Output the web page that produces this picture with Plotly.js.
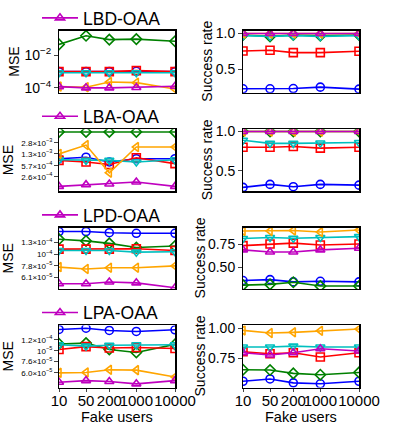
<!DOCTYPE html>
<html>
<head>
<meta charset="utf-8">
<script src="https://cdn.plot.ly/plotly-3.0.1.min.js"></script>
<style>
  body { margin: 0; }
  #plot { width: 399px; height: 426px; }
</style>
</head>
<body>
<div id="plot"></div>
<script>
const fakeUsers = [10, 50, 200, 1000, 10000];
const xTickText = ["10", "50", "200", "1000", "10000"];
const methods = ["LBD-OAA", "LBA-OAA", "LPD-OAA", "LPA-OAA"];

// series order in every panel: blue o, green D, red s, cyan v, orange <, magenta ^
const lbdMse = [
  [1.0e-3, 1.0e-3, 1.0e-3, 1.05e-3, 1.0e-3],
  [4.7e-2, 1.6e-1, 9.3e-2, 1.0e-1, 7.4e-2],
  [1.0e-3, 1.0e-3, 1.0e-3, 1.15e-3, 1.0e-3],
  [8.5e-4, 8.5e-4, 8.5e-4, 8.5e-4, 8.5e-4],
  [1.2e-4, 1.1e-4, 2.3e-4, 2.1e-4, 8.5e-5],
  [1.2e-4, 1.0e-4, 1.0e-4, 1.05e-4, 1.25e-4]
];
const lbdRate = [
  [0.229, 0.229, 0.233, 0.252, 0.225],
  [0.98, 0.96, 0.98, 0.97, 0.98],
  [0.756, 0.766, 0.734, 0.734, 0.752],
  [0.97, 0.96, 0.97, 0.96, 0.97],
  [1, 1, 1, 1, 1],
  [1, 1, 1, 1, 1]
];
const lbaMse = [
  [9.3e-4, 1.03e-3, 7.4e-4, 9.3e-4, 9.3e-4],
  [6.0e-3, 6.0e-3, 6.0e-3, 6.0e-3, 6.0e-3],
  [8.3e-4, 7.4e-4, 6.2e-4, 9.9e-4, 6.6e-4],
  [8.6e-4, 8.3e-4, 8.3e-4, 7.4e-4, 8.6e-4],
  [1.3e-3, 2.4e-3, 3.5e-4, 2.1e-3, 2.1e-3],
  [1.35e-4, 1.52e-4, 1.6e-4, 1.83e-4, 1.35e-4]
];
const lbaRate = [
  [0.291, 0.329, 0.3, 0.329, 0.32],
  [1, 1, 1, 1, 1],
  [0.8, 0.8, 0.81, 0.79, 0.8],
  [0.89, 0.85, 0.85, 0.855, 0.86],
  [1, 1, 1, 1, 1],
  [1, 1, 1, 1, 1]
];
const lpdMse = [
  [1.64e-4, 1.64e-4, 1.6e-4, 1.58e-4, 1.58e-4],
  [1.39e-4, 1.34e-4, 1.27e-4, 1.16e-4, 1.2e-4],
  [1.12e-4, 1.12e-4, 1.12e-4, 1.13e-4, 1.09e-4],
  [1.09e-4, 1.09e-4, 1.09e-4, 1.05e-4, 1.06e-4],
  [7.6e-5, 7.3e-5, 7.5e-5, 7.5e-5, 7.8e-5],
  [5.3e-5, 5.3e-5, 5.5e-5, 5.4e-5, 4.85e-5]
];
const lpdRate = [
  [0.358, 0.368, 0.344, 0.35, 0.344],
  [0.309, 0.317, 0.34, 0.299, 0.299],
  [0.733, 0.75, 0.76, 0.74, 0.75],
  [0.809, 0.82, 0.812, 0.82, 0.83],
  [0.89, 0.89, 0.896, 0.879, 0.9],
  [0.687, 0.664, 0.664, 0.687, 0.705]
];
const lpaMse = [
  [1.49e-4, 1.53e-4, 1.46e-4, 1.43e-4, 1.48e-4],
  [1.1e-4, 1.12e-4, 9.8e-5, 9.2e-5, 1.09e-4],
  [9.8e-5, 1.04e-4, 1.01e-4, 1.02e-4, 1.0e-4],
  [1.08e-4, 1.05e-4, 1.07e-4, 1.08e-4, 1.08e-4],
  [6.0e-5, 6.05e-5, 6.4e-5, 6.35e-5, 5.5e-5],
  [4.92e-5, 5.1e-5, 5.0e-5, 4.76e-5, 5.1e-5]
];
const lpaRate = [
  [0.56, 0.579, 0.547, 0.539, 0.56],
  [0.655, 0.653, 0.625, 0.614, 0.633],
  [0.804, 0.788, 0.796, 0.761, 0.796],
  [0.843, 0.843, 0.851, 0.843, 0.843],
  [0.981, 0.959, 0.965, 0.978, 0.992],
  [0.796, 0.778, 0.796, 0.829, 0.81]
];

// y tick values / labels per row
const mseTickVals = [
  [1e-4, 1e-2],
  [2.6e-4, 5.7e-4, 1.3e-3, 2.8e-3],
  [6.1e-5, 7.8e-5, 1e-4, 1.3e-4],
  [6.0e-5, 7.6e-5, 9.5e-5, 1.2e-4]
];
const mseTickText = [
  ["10<sup>\u22124</sup>", "10<sup>\u22122</sup>"],
  ["2.6\u00d710<sup>\u22124</sup>", "5.7\u00d710<sup>\u22124</sup>", "1.3\u00d710<sup>\u22123</sup>", "2.8\u00d710<sup>\u22123</sup>"],
  ["6.1\u00d710<sup>\u22125</sup>", "7.8\u00d710<sup>\u22125</sup>", "10<sup>\u22124</sup>", "1.3\u00d710<sup>\u22124</sup>"],
  ["6.0\u00d710<sup>\u22125</sup>", "7.6\u00d710<sup>\u22125</sup>", "10<sup>\u22125</sup>", "1.2\u00d710<sup>\u22124</sup>"]
];
const rateTickVals = [[0.5, 1.0], [0.5, 1.0], [0.5, 0.75], [0.75, 1.0]];
const rateTickText = [["0.5", "1.0"], ["0.5", "1.0"], ["0.50", "0.75"], ["0.75", "1.00"]];

const mseData = [lbdMse, lbaMse, lpdMse, lpaMse];
const rateData = [lbdRate, lbaRate, lpdRate, lpaRate];

const colors = ["#0000ff", "#008000", "#ff0000", "#00bfbf", "#ffa500", "#bf00bf"];
const symbols = ["circle-open", "diamond-open", "square-open", "triangle-down-open", "triangle-left-open", "triangle-up-open"];

// axis ranges (log10 for MSE)
const mseRanges = [[-4.3, -0.48], [-4.02, -2.14], [-4.325, -3.75], [-4.356, -3.79]];
const rateRanges = [[0.174, 1.04], [0.241, 1.029], [0.268, 0.924], [0.508, 1.022]];

const W = 399, H = 426;
const colPx = [[59, 175], [243, 359]];
const rowPx = [[25, 88], [125, 188], [225, 287], [324, 387]];
const font = "Liberation Sans, Arial, sans-serif";

const data = [];
const layout = {
  width: W, height: H,
  margin: { l: 0, r: 0, t: 0, b: 0 },
  paper_bgcolor: "white",
  plot_bgcolor: "white",
  font: { family: font, color: "black", size: 14 },
  annotations: []
};

const legendY = [12, 112, 212, 311];

for (let r = 0; r < 4; r++) {
  for (let c = 0; c < 2; c++) {
    const n = r * 2 + c + 1;
    const xa = "x" + (n === 1 ? "" : n);
    const ya = "y" + (n === 1 ? "" : n);
    const series = c === 0 ? mseData[r] : rateData[r];
    series.forEach((vals, s) => {
      const isLegend = c === 0 && s === 5;
      data.push({
        x: fakeUsers, y: vals, xaxis: xa, yaxis: ya,
        type: "scatter", mode: "lines+markers",
        name: isLegend ? methods[r] : "",
        showlegend: isLegend,
        legend: "legend" + (r === 0 ? "" : r + 1),
        line: { color: colors[s], width: 1.6 },
        marker: { symbol: symbols[s], size: 8, color: colors[s], line: { width: 1.6, color: colors[s] } }
      });
    });

    const yd = [1 - rowPx[r][1] / H, 1 - rowPx[r][0] / H];
    const xd = [colPx[c][0] / W, colPx[c][1] / W];
    layout["xaxis" + (n === 1 ? "" : n)] = {
      domain: xd, anchor: ya, type: "log", range: [1, 4],
      tickmode: "array", tickvals: fakeUsers, ticktext: xTickText,
      showticklabels: r === 3, ticks: r === 3 ? "outside" : "", ticklen: 3,
      ticklabelstandoff: -4,
      tickangle: 0, tickfont: { size: 15 },
      showline: true, mirror: true, linecolor: "black", linewidth: 1.5,
      showgrid: false, zeroline: false
    };
    const yax = {
      domain: yd, anchor: xa,
      tickmode: "array", ticks: "outside", ticklen: 3.5,
      showline: true, mirror: true, linecolor: "black", linewidth: 1.5,
      showgrid: false, zeroline: false
    };
    if (c === 0) {
      yax.type = "log";
      yax.range = mseRanges[r];
      yax.tickvals = mseTickVals[r];
      yax.ticktext = mseTickText[r];
      yax.tickfont = { size: r === 0 ? 14 : 8 };
    } else {
      yax.range = rateRanges[r];
      yax.tickvals = rateTickVals[r];
      yax.ticktext = rateTickText[r];
      yax.tickfont = { size: 14 };
    }
    layout["yaxis" + (n === 1 ? "" : n)] = yax;

    // y axis titles
    const titleX = c === 0 ? (r === 0 ? 14 : 8) : (r < 2 ? 207 : 200);
    layout.annotations.push({
      xref: "paper", yref: "paper",
      x: titleX / W, y: (yd[0] + yd[1]) / 2,
      text: c === 0 ? "MSE" : "Success rate",
      textangle: -90, showarrow: false,
      xanchor: "center", yanchor: "middle",
      font: { size: 14 }
    });

    if (r === 3) {
      layout.annotations.push({
        xref: "paper", yref: "paper",
        x: (xd[0] + xd[1]) / 2, y: 1 - 417 / H,
        text: "Fake users", showarrow: false,
        xanchor: "center", yanchor: "middle",
        font: { size: 14.5 }
      });
    }
  }

  layout["legend" + (r === 0 ? "" : r + 1)] = {
    x: 37 / W, y: 1 - legendY[r] / H,
    xanchor: "left", yanchor: "middle",
    bgcolor: "rgba(0,0,0,0)", borderwidth: 0,
    itemwidth: 36,
    font: { size: 17.5, family: font }
  };
}

Plotly.newPlot("plot", data, layout, { displayModeBar: false, staticPlot: true });
</script>
</body>
</html>
